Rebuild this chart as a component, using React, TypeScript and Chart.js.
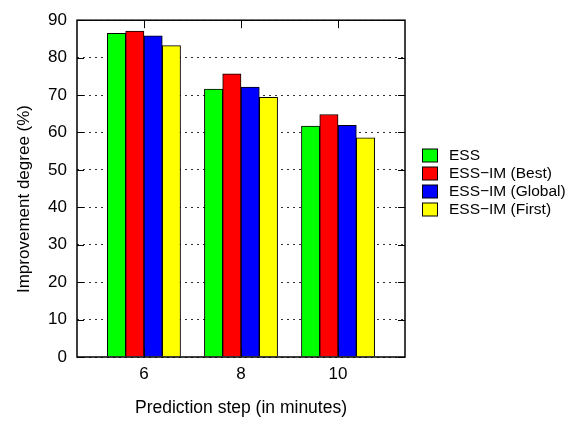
import React, { useEffect, useRef } from 'react';
import { Chart, registerables } from 'chart.js';

Chart.register(...registerables);

const categories = [6, 8, 10];
const seriesLabels = ['ESS', 'ESS\u2212IM (Best)', 'ESS\u2212IM (Global)', 'ESS\u2212IM (First)'];
const ess = [86.5, 71.6, 61.7];
const essBest = [87.1, 75.7, 64.8];
const essGlobal = [85.8, 72.1, 61.9];
const essFirst = [83.2, 69.4, 58.6];
const seriesColors = ['#00ff00', '#ff0000', '#0000ff', '#ffff00'];
const yTicks = [0, 10, 20, 30, 40, 50, 60, 70, 80, 90];
const xTitle = 'Prediction step (in minutes)';
const yTitle = 'Improvement degree (%)';

const FONT_FAMILY = '"Liberation Sans", Arial, Helvetica, sans-serif';

const framePlugin = {
  id: 'frame',
  afterDatasetsDraw(chart: any) {
    const { ctx, chartArea: a, scales } = chart;
    const xs = scales.x;
    const ys = scales.y;
    ctx.save();
    ctx.strokeStyle = '#000';
    ctx.lineWidth = 1;
    ctx.beginPath();
    for (const v of yTicks) {
      const py = Math.round(ys.getPixelForValue(v)) + 0.5;
      ctx.moveTo(a.left, py);
      ctx.lineTo(a.left + 7, py);
      ctx.moveTo(a.right, py);
      ctx.lineTo(a.right - 7, py);
    }
    for (const c of categories) {
      const px = Math.round(xs.getPixelForValue(c)) + 0.5;
      ctx.moveTo(px, a.top);
      ctx.lineTo(px, a.top + 8);
      ctx.moveTo(px, a.bottom);
      ctx.lineTo(px, a.bottom - 8);
    }
    ctx.stroke();
    ctx.lineWidth = 1.5;
    ctx.strokeRect(a.left, a.top, a.right - a.left, a.bottom - a.top);

    // y-axis title
    ctx.fillStyle = '#000';
    ctx.font = `17px ${FONT_FAMILY}`;
    ctx.textAlign = 'center';
    ctx.textBaseline = 'middle';
    ctx.save();
    ctx.translate(24, 199);
    ctx.rotate(-Math.PI / 2);
    ctx.fillText(yTitle, 0, 0);
    ctx.restore();

    // legend
    const datasets = chart.data.datasets;
    ctx.font = `15.5px ${FONT_FAMILY}`;
    ctx.textAlign = 'left';
    ctx.textBaseline = 'middle';
    const startY = 155.5;
    const step = 18;
    datasets.forEach((ds: any, i: number) => {
      const cy = startY + i * step;
      ctx.fillStyle = ds.backgroundColor;
      ctx.fillRect(422.5, cy - 6.5, 15, 13);
      ctx.lineWidth = 1;
      ctx.strokeStyle = '#000';
      ctx.strokeRect(422.5, cy - 6.5, 15, 13);
      ctx.fillStyle = '#000';
      ctx.fillText(ds.label, 449, cy + 0.5);
    });
    ctx.restore();
  },
};

export default function App() {
  const canvasRef = useRef<HTMLCanvasElement | null>(null);

  useEffect(() => {
    document.body.style.margin = '0';
    const canvas = canvasRef.current;
    if (!canvas) return;
    const series = [ess, essBest, essGlobal, essFirst];
    const axisFont = { family: FONT_FAMILY, size: 17 };
    const titleFont = { family: FONT_FAMILY, size: 17.5 };
    const chart = new Chart(canvas, {
      type: 'bar',
      data: {
        datasets: series.map((vals, si) => ({
          label: seriesLabels[si],
          data: categories.map((c, i) => ({ x: c, y: vals[i] })),
          backgroundColor: seriesColors[si],
          borderColor: '#000',
          borderWidth: 1,
          barThickness: 18.3,
        })),
      },
      options: {
        responsive: false,
        animation: false,
        devicePixelRatio: 1,
        layout: { padding: { top: 10, right: 169, bottom: 0, left: 0 } },
        plugins: {
          legend: { display: false },
          tooltip: { enabled: false },
        },
        scales: {
          x: {
            type: 'linear',
            min: 4.62,
            max: 11.38,
            offset: false,
            grid: { display: false, drawTicks: false, offset: false },
            border: { display: false },
            afterBuildTicks: (s: any) => {
              s.ticks = categories.map((v) => ({ value: v }));
            },
            ticks: {
              font: axisFont,
              color: '#000',
              padding: 7,
              maxRotation: 0,
              autoSkip: false,
              callback: (v: any) => String(v),
            },
            title: {
              display: true,
              text: xTitle,
              font: titleFont,
              color: '#000',
              padding: { top: 0, bottom: 5 },
            },
            afterFit: (s: any) => {
              s.height = 67;
            },
          },
          y: {
            min: 0,
            max: 90,
            ticks: {
              stepSize: 10,
              font: axisFont,
              color: '#000',
              padding: 10,
            },
            grid: { color: '#333', lineWidth: 1, drawTicks: false },
            border: { display: false, dash: [2, 4] },
            afterFit: (s: any) => {
              s.width = 77;
            },
          },
        },
      } as any,
      plugins: [framePlugin],
    });
    return () => chart.destroy();
  }, []);

  return (
    <canvas
      ref={canvasRef}
      width={574}
      height={424}
      style={{ display: 'block', width: 574, height: 424 }}
    />
  );
}
